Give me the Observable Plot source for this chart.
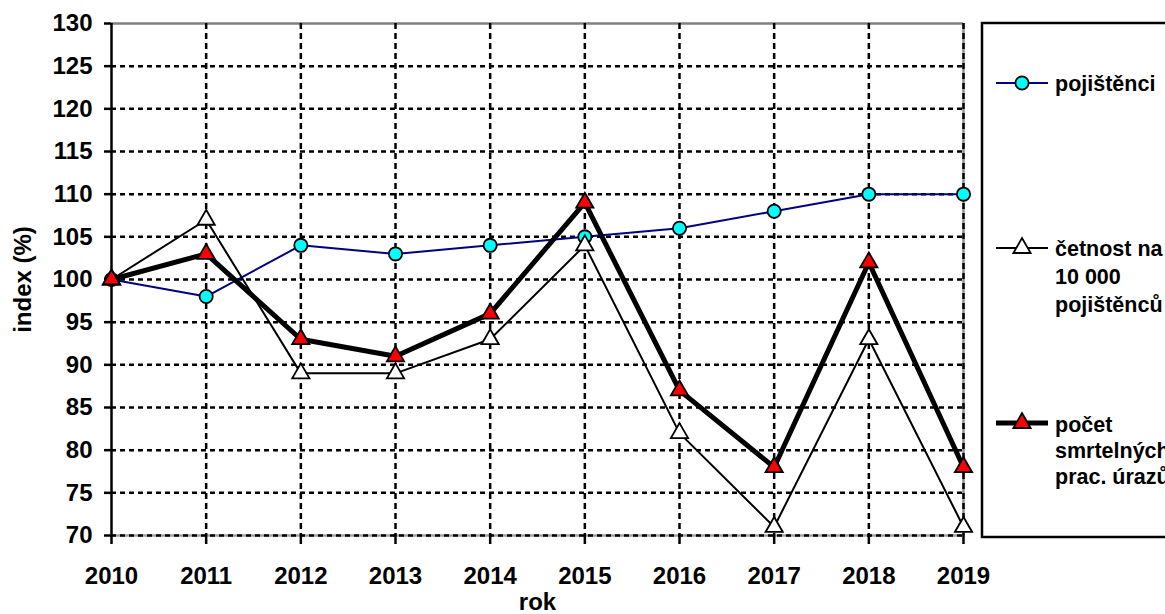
<!DOCTYPE html>
<html><head><meta charset="utf-8">
<script src="https://cdn.jsdelivr.net/npm/d3@7"></script>
<script src="https://cdn.jsdelivr.net/npm/@observablehq/plot@0.6"></script>
<style>
body{margin:0;background:#fff;}
#wrap{position:relative;width:1165px;height:614px;overflow:hidden;font-family:"Liberation Sans",Arial,sans-serif;font-weight:bold;background:#fff;}
#legend{position:absolute;left:0;top:0;}
</style></head><body><div id="wrap"></div>
<script>
const years = [2010, 2011, 2012, 2013, 2014, 2015, 2016, 2017, 2018, 2019];
const pojistenci = [100, 98, 104, 103, 104, 105, 106, 108, 110, 110];
const cetnost = [100, 107, 89, 89, 93, 104, 82, 71, 93, 71];
const pocet = [100, 103, 93, 91, 96, 109, 87, 78, 102, 78];
const yTicks = [70, 75, 80, 85, 90, 95, 100, 105, 110, 115, 120, 125, 130];
const legendLabels = [["pojištěnci"], ["četnost na", "10 000", "pojištěnců"], ["počet", "smrtelných", "prac. úrazů"]];
const xLabel = "rok";
const yLabel = "index (%)";

const data = years.map((year, i) => ({year, pojistenci: pojistenci[i], cetnost: cetnost[i], pocet: pocet[i]}));
const font = '"Liberation Sans", Arial, sans-serif';
const triR = 6.4, circR = 6.6;

const chart = Plot.plot({
  width: 1165, height: 614,
  marginLeft: 111, marginRight: 202, marginTop: 23, marginBottom: 79,
  style: {fontFamily: font, fontWeight: "bold", fontSize: "24px", color: "#000", background: "#fff", overflow: "visible"},
  x: {domain: [2010, 2019], axis: null},
  y: {domain: [70, 130], axis: null},
  marks: [
    Plot.ruleY([130], {stroke: "#808080", strokeWidth: 2.5}),
    Plot.ruleX([2019], {stroke: "#909090", strokeWidth: 2.5}),
    Plot.ruleY([70], {stroke: "#a0a0a0", strokeWidth: 2.5}),
    Plot.ruleY(yTicks.filter(v => v < 130), {stroke: "#000", strokeWidth: 2.5, strokeDasharray: "5,4"}),
    Plot.ruleX(years.slice(1), {stroke: "#000", strokeWidth: 2.5, strokeDasharray: "6,4"}),
    Plot.axisY({ticks: yTicks, tickSize: 7, tickPadding: 12, tickFormat: d => String(d), strokeWidth: 2.5, label: null, fontSize: 24}),
    Plot.axisX({ticks: years, tickSize: 9, tickPadding: 22, tickFormat: d => String(d), strokeWidth: 2.5, label: null, fontSize: 24}),
    Plot.ruleX([2010], {stroke: "#000", strokeWidth: 2.5}),
    Plot.line(data, {x: "year", y: "pojistenci", stroke: "#000080", strokeWidth: 2}),
    Plot.dot(data, {x: "year", y: "pojistenci", r: circR, fill: "#00ffff", stroke: "#000", strokeWidth: 1.8}),
    Plot.line(data, {x: "year", y: "cetnost", stroke: "#000", strokeWidth: 2}),
    Plot.dot(data, {x: "year", y: "cetnost", symbol: "triangle", r: triR, fill: "#fff", stroke: "#000", strokeWidth: 1.8}),
    Plot.line(data, {x: "year", y: "pocet", stroke: "#000", strokeWidth: 5}),
    Plot.dot(data, {x: "year", y: "pocet", symbol: "triangle", r: triR, fill: "#ff0000", stroke: "#000", strokeWidth: 1.8}),
    Plot.text([yLabel], {frameAnchor: "left", dx: -88, rotate: -90, textAnchor: "middle", lineAnchor: "middle", fontSize: 24, fontWeight: "bold", fill: "#000"}),
    Plot.text([xLabel], {frameAnchor: "bottom", dy: 67, textAnchor: "middle", lineAnchor: "middle", fontSize: 24, fontWeight: "bold", fill: "#000"})
  ]
});
const wrap = document.getElementById("wrap");
wrap.appendChild(chart);

// legend overlay
const svg = d3.select(wrap).append("svg").attr("id", "legend").attr("width", 1165).attr("height", 614)
  .style("font-family", font).style("font-weight", "bold");
svg.append("rect").attr("x", 982).attr("y", 23).attr("width", 200).attr("height", 514)
  .attr("fill", "none").attr("stroke", "#000").attr("stroke-width", 2.5);
const items = [
  {y: 83, stroke: "#000080", sw: 2, sym: "circle", fill: "#00ffff", textY: [91]},
  {y: 248, stroke: "#000", sw: 2, sym: "triangle", fill: "#fff", textY: [256, 284, 312]},
  {y: 423, stroke: "#000", sw: 5, sym: "triangle", fill: "#ff0000", textY: [432, 458, 484]}
];
items.forEach((it, k) => {
  svg.append("line").attr("x1", 996).attr("x2", 1048).attr("y1", it.y).attr("y2", it.y)
    .attr("stroke", it.stroke).attr("stroke-width", it.sw);
  if (it.sym === "circle") {
    svg.append("circle").attr("cx", 1022).attr("cy", it.y).attr("r", circR)
      .attr("fill", it.fill).attr("stroke", "#000").attr("stroke-width", 1.8);
  } else {
    svg.append("path").attr("d", d3.symbol(d3.symbolTriangle, triR * triR * Math.PI)())
      .attr("transform", `translate(1022,${it.y})`)
      .attr("fill", it.fill).attr("stroke", "#000").attr("stroke-width", 1.8);
  }
  legendLabels[k].forEach((t, j) => {
    svg.append("text").attr("x", 1055).attr("y", it.textY[j]).attr("font-size", 21.5).attr("fill", "#000").text(t);
  });
});
</script>
</body></html>
